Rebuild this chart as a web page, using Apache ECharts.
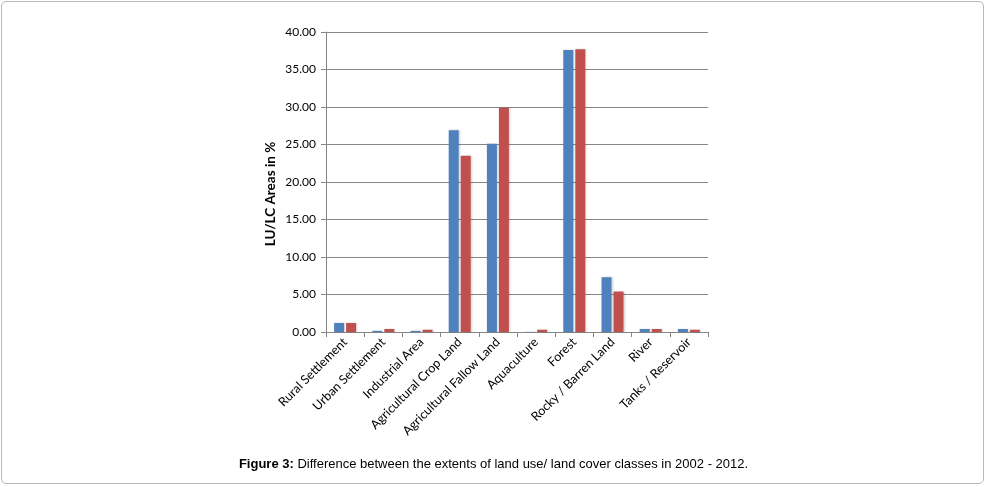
<!DOCTYPE html>
<html><head><meta charset="utf-8">
<script src="https://cdn.jsdelivr.net/npm/echarts@6/dist/echarts.min.js"></script>
<style>
html,body{margin:0;padding:0;background:#fff;}
#frame{position:absolute;left:1px;top:1px;width:983px;height:483px;border:1px solid #b8b8b8;border-radius:5px;box-sizing:border-box;}
#c{position:absolute;left:0;top:0;width:987px;height:487px;}
</style></head>
<body>
<div id="frame"></div>
<div id="c"></div>
<script>
const categories = ['Rural Settlement','Urban Settlement','Industrial Area','Agricultural Crop Land','Agricultural Fallow Land','Aquaculture','Forest','Rocky / Barren Land','River','Tanks / Reservoir'];
const series2002 = [1.2, 0.15, 0.15, 26.9, 25.1, 0.02, 37.6, 7.3, 0.4, 0.4];
const series2012 = [1.2, 0.4, 0.3, 23.5, 29.9, 0.3, 37.7, 5.4, 0.4, 0.3];
const yTicks = [0, 5, 10, 15, 20, 25, 30, 35, 40];

const chart = echarts.init(document.getElementById('c'), null, {renderer:'canvas'});
chart.setOption({
  animation:false,
  grid:{left:326, right:279, top:32, bottom:155, containLabel:false},
  xAxis:{
    type:'category', data:categories, boundaryGap:true,
    axisLine:{lineStyle:{color:'#868686', width:1}},
    axisTick:{show:true, alignWithLabel:false, length:5, lineStyle:{color:'#868686'}},
    axisLabel:{rotate:45, interval:0, fontFamily:'Lato', fontSize:12.5, color:'#000', margin:8}
  },
  yAxis:{
    type:'value', min:0, max:40, interval:5,
    name:'LU/LC Areas in %', nameLocation:'middle', nameGap:48,
    nameTextStyle:{fontFamily:'Lato', fontWeight:'bold', fontSize:13.5, color:'#000', padding:[0,24,0,0]},
    axisLine:{show:true, lineStyle:{color:'#868686'}},
    axisTick:{show:true, length:5, lineStyle:{color:'#868686'}},
    splitLine:{lineStyle:{color:'#868686', width:1}},
    axisLabel:{fontFamily:'Lato', fontSize:12, color:'#000', margin:10,
      formatter:v=> yTicks.includes(v) ? v.toFixed(2) : ''}
  },
  series:[
    {name:'2002', type:'bar', data:series2002, barWidth:10, barGap:'20%',
     itemStyle:{color:'#4F81BD', shadowColor:'rgba(0,0,0,0.18)', shadowBlur:2, shadowOffsetX:1}},
    {name:'2012', type:'bar', data:series2012, barWidth:10,
     itemStyle:{color:'#C0504D', shadowColor:'rgba(0,0,0,0.18)', shadowBlur:2, shadowOffsetX:1}}
  ],
  graphic:[{
    type:'text', left:'center', top:458,
    style:{
      text:'{b|Figure 3:} Difference between the extents of land use/ land cover classes in 2002 - 2012.',
      rich:{b:{fontWeight:'bold', fontFamily:'Liberation Sans', fontSize:13, fill:'#000'}},
      fontFamily:'Liberation Sans', fontSize:13, fill:'#000'
    }
  }]
});
</script>
</body></html>
